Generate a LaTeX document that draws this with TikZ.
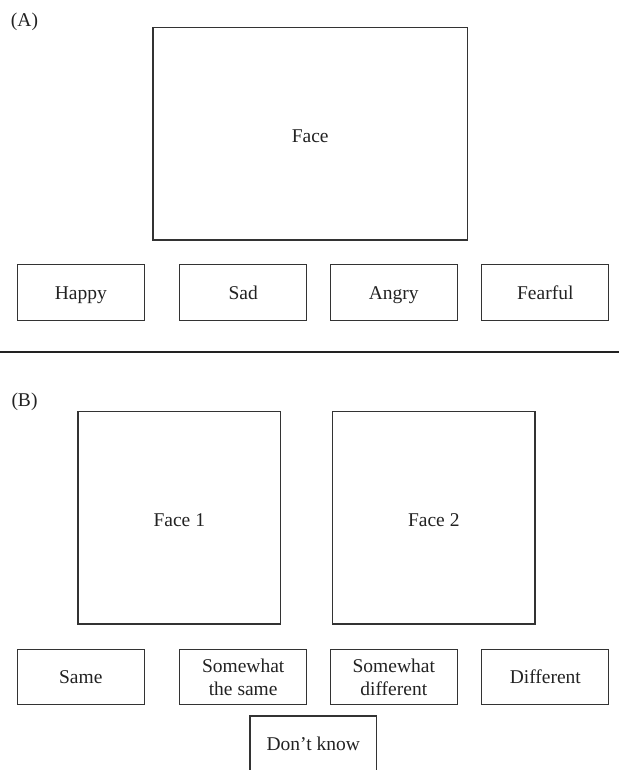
\documentclass[tikz,border=0pt]{standalone}
\usepackage{fontspec}
\setmainfont{Liberation Serif}
\definecolor{edge}{HTML}{333333}
\definecolor{ink}{HTML}{222222}
\newcommand{\mystrut}{\rule[-3.8pt]{0pt}{20.8pt}}
\newcommand{\bigstrut}{\rule[-2.5pt]{0pt}{22pt}}
\begin{document}
\begin{tikzpicture}[x=1pt,y=-1pt,
  box/.style={draw=edge,line width=1.3pt,inner sep=0pt,align=center,text=ink,
    font=\fontsize{19.5}{23}\selectfont},
  small/.style={box,minimum width=127pt,minimum height=56pt},
  lbl/.style={inner sep=0pt,text=ink,font=\fontsize{19.5}{23}\selectfont}]
\useasboundingbox (0,0) rectangle (619,770);
% Panel A
\node[lbl] (labA) at (24.5,22) {(A)};
\node[box,minimum width=314.3pt,minimum height=212.3pt] (face) at (310.2,133.8) {\bigstrut Face};
\node[small] (happy) at (80.8,292.7) {\mystrut Happy};
\node[small] (sad) at (243.2,292.7) {\mystrut Sad};
\node[small] (angry) at (393.8,292.7) {\mystrut Angry};
\node[small] (fearful) at (545.3,292.7) {\mystrut Fearful};
% divider
\coordinate (dl) at (0,352);
\coordinate (dr) at (619,352);
\draw[line width=2.4pt,draw=ink] (dl) -- (dr);
% Panel B
\node[lbl] (labB) at (24.5,402) {(B)};
\node[box,minimum width=202.7pt,minimum height=212.3pt] (face1) at (179.3,517.9) {\bigstrut Face 1};
\node[box,minimum width=202.3pt,minimum height=212.3pt] (face2) at (433.8,517.9) {\bigstrut Face 2};
\node[small,minimum height=55.4pt] (same) at (80.8,677) {\mystrut Same};
\node[small,minimum height=55.4pt] (swsame) at (243.2,677) {\mystrut Somewhat\\\mystrut the same};
\node[small,minimum height=55.4pt] (swdiff) at (393.8,677) {\mystrut Somewhat\\\mystrut different};
\node[small,minimum height=55.4pt] (diff) at (545.3,677) {\mystrut Different};
\node[small,minimum width=126.3pt,minimum height=56pt] (dk) at (313.2,744) {\mystrut Don’t know};
\end{tikzpicture}
\end{document}
